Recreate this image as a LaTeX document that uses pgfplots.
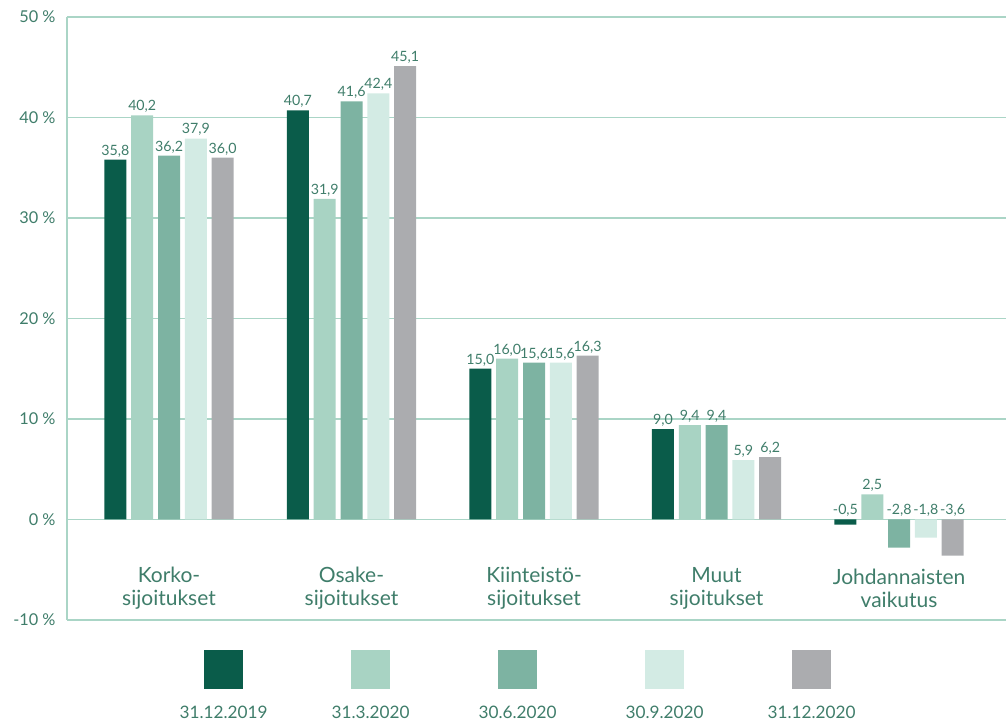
\documentclass[border=0pt]{standalone}
\usepackage{pgfplots}
\pgfplotsset{compat=1.18}
\usepackage{fontspec}
\setmainfont{Lato}
\definecolor{cA}{HTML}{0A5C4A}
\definecolor{cB}{HTML}{A8D3C3}
\definecolor{cC}{HTML}{7DB3A2}
\definecolor{cD}{HTML}{D3EBE4}
\definecolor{cE}{HTML}{ABACAF}
\definecolor{gridc}{HTML}{AAD5C6}
\definecolor{txt}{HTML}{3F7D6A}
\begin{document}
\begin{tikzpicture}
\begin{axis}[
  name=main,
  scale only axis, width=939pt, height=603pt,
  xmin=-0.559, xmax=4.586, ymin=-10, ymax=50,
  ytick={-10,0,...,50},
  yticklabel={\pgfmathprintnumber{\tick}~\%},
  /pgf/number format/assume math mode=true,
  xtick=\empty,
  axis lines=left,
  axis line style={draw=gridc, line width=1.2pt, -},
  ymajorgrids,
  grid style={draw=gridc, line width=1.2pt},
  major tick length=0pt,
  tick label style={font=\fontsize{16.3}{19}\selectfont, text=txt},
  yticklabel style={xshift=-8pt},
  ybar=4.8pt, bar width=22pt,
  nodes near coords={\pgfmathprintnumber[fixed, fixed zerofill, precision=1, use comma, assume math mode=true]{\pgfplotspointmeta}},
  visualization depends on=y \as \rawy,
  every node near coord/.append style={font=\fontsize{14.2}{17}\selectfont, text=txt, anchor=south, inner xsep=0pt, inner ysep=2.5pt, shift={(axis direction cs:0,{-min(\rawy,0)})}},
  every axis plot post/.append style={legend image code/.code={\fill[#1, overlay, draw=none] (54pt,23.5pt) rectangle (93pt,62.5pt);}},
  legend columns=5,
  legend style={at={(axis description cs:0.0885,-0.1542)}, anchor=west, draw=none, fill=none, inner sep=0pt, outer sep=0pt, /tikz/column sep=0pt,
    nodes={text width=141pt, align=center, inner sep=3pt, font=\fontsize{17.2}{20}\selectfont, text=txt}},
]
\addplot[fill=cA, draw=none] coordinates {(0,35.8) (1,40.7) (2,15.0) (3,9.0) (4,-0.5)};
\addplot[fill=cB, draw=none] coordinates {(0,40.2) (1,31.9) (2,16.0) (3,9.4) (4,2.5)};
\addplot[fill=cC, draw=none] coordinates {(0,36.2) (1,41.6) (2,15.6) (3,9.4) (4,-2.8)};
\addplot[fill=cD, draw=none] coordinates {(0,37.9) (1,42.4) (2,15.6) (3,5.9) (4,-1.8)};
\addplot[fill=cE, draw=none] coordinates {(0,36.0) (1,45.1) (2,16.3) (3,6.2) (4,-3.6)};
\legend{31.12.2019, 31.3.2020, 30.6.2020, 30.9.2020, 31.12.2020}
\node[align=center, font=\fontsize{21}{23.5}\selectfont, text=txt] at (axis cs:0,-6.85) {Korko-\\sijoitukset};
\node[align=center, font=\fontsize{21}{23.5}\selectfont, text=txt] at (axis cs:1,-6.85) {Osake-\\sijoitukset};
\node[align=center, font=\fontsize{21}{23.5}\selectfont, text=txt] at (axis cs:2,-6.85) {Kiinteistö-\\sijoitukset};
\node[align=center, font=\fontsize{21}{23.5}\selectfont, text=txt] at (axis cs:3,-6.85) {Muut\\sijoitukset};
\node[align=center, font=\fontsize{21}{23.5}\selectfont, text=txt] at (axis cs:4,-6.85) {Johdannaisten\\vaikutus};
\end{axis}
\pgfresetboundingbox
\path ([xshift=-67pt,yshift=-106pt]main.south west) rectangle ([yshift=17pt]main.north east);
\end{tikzpicture}
\end{document}
